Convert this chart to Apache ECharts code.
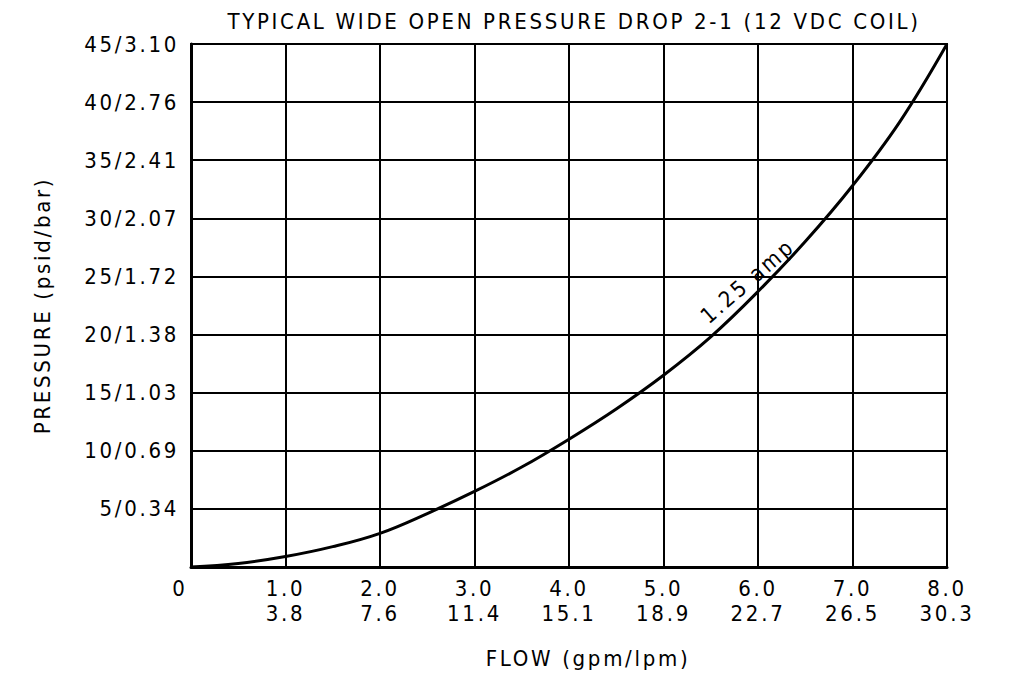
<!DOCTYPE html>
<html>
<head>
<meta charset="utf-8">
<script src="https://cdn.jsdelivr.net/npm/echarts@6/dist/echarts.min.js"></script>
<style>
  html, body { margin: 0; padding: 0; background: #fff; }
  #chart { width: 1019px; height: 674px; }
  #chart svg text { letter-spacing: 2.7px; }
</style>
</head>
<body>
<div id="chart"></div>
<script>
// Data
const flowGpm     = [0, 0.5, 1.0, 1.5, 2.0, 2.5, 3.0, 3.5, 4.0, 4.5, 5.0, 5.5, 6.0, 6.5, 7.0, 7.5, 8.0];
const pressurePsi = [0, 0.3, 0.9, 1.75, 2.9, 4.6, 6.5, 8.6, 11.0, 13.6, 16.5, 19.8, 23.7, 28.0, 32.8, 38.3, 45.0];
const xTickGpm = [0, 1, 2, 3, 4, 5, 6, 7, 8];
const xTickLpm = ['', '3.8', '7.6', '11.4', '15.1', '18.9', '22.7', '26.5', '30.3'];
const yTickPsi = [0, 5, 10, 15, 20, 25, 30, 35, 40, 45];
const yTickBar = ['', '0.34', '0.69', '1.03', '1.38', '1.72', '2.07', '2.41', '2.76', '3.10'];
const curveName = '1.25 amp';
const labelAt = [5.89, 24.6];

const FONT = "'DejaVu Sans Condensed', 'Liberation Sans Narrow', 'DejaVu Sans', sans-serif";
const FS = 22;

const chart = echarts.init(document.getElementById('chart'), null, { renderer: 'svg' });
chart.setOption({
  animation: false,
  backgroundColor: '#fff',
  textStyle: { fontFamily: FONT, color: '#000' },
  title: {
    text: 'TYPICAL WIDE OPEN PRESSURE DROP 2-1 (12 VDC COIL)',
    left: 569, top: 5, textAlign: 'center',
    textStyle: { fontFamily: FONT, fontSize: FS, fontWeight: 'normal', color: '#000' }
  },
  grid: { left: 191, right: 72, top: 44, bottom: 107, show: true, borderColor: '#000', borderWidth: 2 },
  xAxis: {
    type: 'value', min: 0, max: 8, interval: 1,
    name: 'FLOW (gpm/lpm)', nameLocation: 'middle', nameGap: 80,
    nameTextStyle: { fontFamily: FONT, fontSize: FS, color: '#000', padding: [0, 0, 0, 38] },
    axisLine: { show: true, lineStyle: { color: '#000', width: 3 } },
    axisTick: { show: false },
    splitLine: { show: true, lineStyle: { color: '#000', width: 2 } },
    axisLabel: {
      margin: 9, fontFamily: FONT, fontSize: FS, color: '#000', lineHeight: 25,
      formatter: function (v) {
        const i = xTickGpm.indexOf(v);
        if (v === 0) return '{z|0}';
        return v.toFixed(1) + '\n' + xTickLpm[i];
      },
      rich: { z: { fontFamily: FONT, fontSize: FS, color: '#000', lineHeight: 25, padding: [0, 22, 0, 0] } }
    }
  },
  yAxis: {
    type: 'value', min: 0, max: 45, interval: 5,
    name: 'PRESSURE (psid/bar)', nameLocation: 'middle', nameGap: 138, nameRotate: 90,
    nameTextStyle: { fontFamily: FONT, fontSize: FS, color: '#000' },
    axisLine: { show: true, lineStyle: { color: '#000', width: 3 } },
    axisTick: { show: false },
    splitLine: { show: true, lineStyle: { color: '#000', width: 2 } },
    axisLabel: {
      margin: 12, fontFamily: FONT, fontSize: FS, color: '#000',
      formatter: function (v) {
        const i = yTickPsi.indexOf(v);
        if (v === 0) return '';
        return v + '/' + yTickBar[i];
      }
    }
  },
  series: [{
    type: 'line',
    name: curveName,
    data: flowGpm.map((x, i) => [x, pressurePsi[i]]),
    smooth: 0.4,
    showSymbol: false,
    lineStyle: { color: '#000', width: 3 },
    markPoint: {
      symbol: 'circle', symbolSize: 0,
      data: [{ coord: labelAt, value: curveName }],
      label: {
        show: true, position: 'inside', rotate: 41,
        formatter: curveName,
        fontFamily: FONT, fontSize: FS, color: '#000'
      }
    }
  }]
});
</script>
</body>
</html>
